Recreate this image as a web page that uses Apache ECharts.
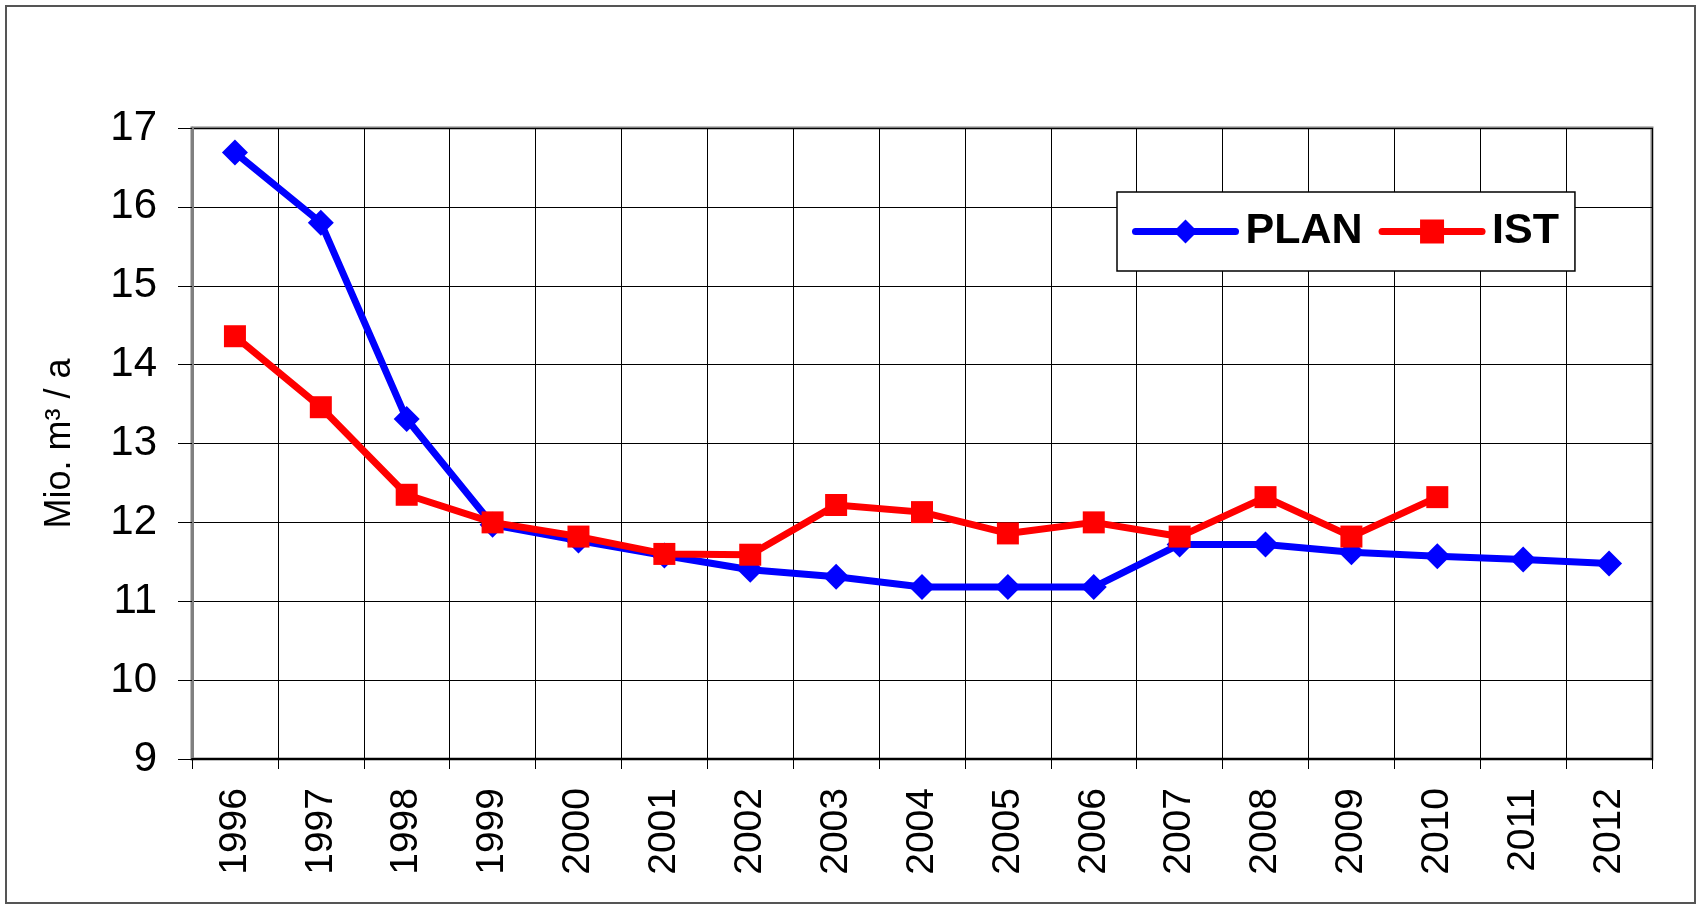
<!DOCTYPE html>
<html>
<head>
<meta charset="utf-8">
<script src="https://cdn.jsdelivr.net/npm/echarts@6/dist/echarts.min.js"></script>
<style>
  html, body { margin: 0; padding: 0; background: #fff; }
  #chart { width: 1696px; height: 904px; }
</style>
</head>
<body>
<div id="chart"></div>
<script>
// Jahre und Werte (Mio. m³ / a)
const years = ['1996', '1997', '1998', '1999', '2000', '2001', '2002', '2003', '2004',
  '2005', '2006', '2007', '2008', '2009', '2010', '2011', '2012']
const planValues = [16.69, 15.8, 13.31, 11.97, 11.77, 11.58, 11.4, 11.31, 11.18,
  11.18, 11.18, 11.72, 11.72, 11.62, 11.57, 11.53, 11.48]
const istValues = [14.36, 13.46, 12.35, 12.0, 11.82, 11.6, 11.59, 12.22, 12.13,
  11.86, 12.0, 11.82, 12.32, 11.82, 12.32, null, null]
const yMin = 9
const yMax = 17
const yStep = 1

const font = '"Liberation Sans", Arial, sans-serif'
const myChart = echarts.init(document.getElementById('chart'))

myChart.setOption({
  animation: false,
  backgroundColor: '#fff',
  textStyle: { fontFamily: font },
  graphic: [{
    type: 'rect',
    shape: { x: 6, y: 6, width: 1689, height: 897 },
    style: { fill: 'none', stroke: '#555', lineWidth: 2 },
    z: 0
  }],
  grid: {
    left: 192, top: 128, right: 44, bottom: 145,
    show: true, borderColor: '#808080', borderWidth: 3
  },
  legend: {
    left: 1117, top: 192,
    backgroundColor: '#fff',
    borderColor: '#000', borderWidth: 1.5,
    padding: [18, 16, 18, 15],
    itemWidth: 100, itemHeight: 30, itemGap: 16,
    lineStyle: { width: 7, cap: 'round' },
    textStyle: { fontFamily: font, fontSize: 43, fontWeight: 'bold', color: '#000', padding: [0, 0, 0, 5] },
    data: ['PLAN', 'IST']
  },
  xAxis: {
    type: 'category',
    data: years,
    boundaryGap: true,
    axisLine: { lineStyle: { color: '#000', width: 2 } },
    axisTick: { show: true, length: 10, lineStyle: { color: '#000', width: 1 } },
    axisLabel: { rotate: 90, margin: 29, fontSize: 39, color: '#000', fontFamily: font },
    splitLine: { show: true, lineStyle: { color: '#000', width: 1 } }
  },
  yAxis: {
    type: 'value',
    min: yMin, max: yMax, interval: yStep,
    name: 'Mio. m³ / a',
    nameLocation: 'middle',
    nameGap: 114,
    nameTextStyle: { fontSize: 36, color: '#000', fontFamily: font },
    axisLine: { show: true, lineStyle: { color: '#808080', width: 3 } },
    axisTick: { show: true, length: 14, lineStyle: { color: '#000', width: 1 } },
    axisLabel: { margin: 35, fontSize: 42, color: '#000', fontFamily: font },
    splitLine: { show: true, lineStyle: { color: '#000', width: 1 } }
  },
  series: [
    {
      name: 'PLAN', type: 'line', data: planValues,
      color: '#0000ff',
      symbol: 'diamond', symbolSize: 26,
      lineStyle: { width: 7, color: '#0000ff' },
      itemStyle: { color: '#0000ff' },
      z: 3
    },
    {
      name: 'IST', type: 'line', data: istValues,
      color: '#ff0000',
      symbol: 'rect', symbolSize: 22,
      lineStyle: { width: 7, color: '#ff0000' },
      itemStyle: { color: '#ff0000' },
      z: 4
    }
  ]
})
</script>
</body>
</html>
